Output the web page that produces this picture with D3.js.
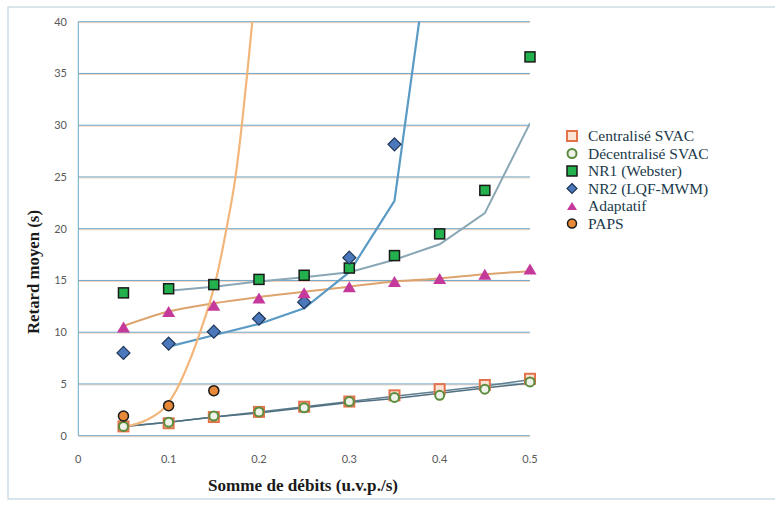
<!DOCTYPE html>
<html>
<head>
<meta charset="utf-8" />
<title>retard moyen</title>
<script src="https://cdn.jsdelivr.net/npm/d3@7/dist/d3.min.js"></script>
<style>
  body { margin: 0; background: #fff; }
</style>
</head>
<body>
<svg width="775" height="506"></svg>
<script>
// donnees
var xVals = [0.05, 0.1, 0.15, 0.2, 0.25, 0.3, 0.35, 0.4, 0.45, 0.5]
var centraliseVals = [0.9, 1.2, 1.8, 2.3, 2.8, 3.3, 3.9, 4.5, 4.9, 5.5]
var decentraliseVals = [0.9, 1.3, 1.9, 2.3, 2.7, 3.3, 3.7, 3.9, 4.5, 5.2]
var nr1Vals = [13.8, 14.2, 14.6, 15.1, 15.5, 16.2, 17.4, 19.5, 23.7, 36.6]
var nr2Vals = [8.0, 8.9, 10.05, 11.3, 12.9, 17.2, 28.15]
var adaptatifVals = [10.5, 12.0, 12.6, 13.3, 13.8, 14.4, 14.9, 15.2, 15.6, 16.1]
var papsVals = [1.9, 2.9, 4.35]

// courbes (modeles)
var papsCurveX = [0.05, 0.075, 0.0974, 0.1085, 0.123, 0.134, 0.146, 0.153, 0.164, 0.174, 0.181, 0.187, 0.1926]
var papsCurveY = [0.85, 1.5, 2.9, 4.4, 7.2, 9.8, 13.0, 15.3, 20, 25, 30, 35, 40]
var nr1CurveX = [0.1, 0.15, 0.2, 0.25, 0.3, 0.35, 0.4, 0.45, 0.5]
var nr1CurveY = [14.0, 14.4, 14.9, 15.3, 15.8, 17.0, 18.5, 21.5, 30.2]
var nr2CurveX = [0.1, 0.15, 0.2, 0.25, 0.3, 0.35, 0.3773]
var nr2CurveY = [8.6, 9.7, 10.8, 12.3, 15.8, 22.7, 40]
var adaptCurveY = [10.6, 12.0, 12.8, 13.4, 13.9, 14.4, 14.9, 15.2, 15.6, 15.9]
var svacCurve1Y = [0.9, 1.3, 1.8, 2.3, 2.8, 3.3, 3.8, 4.3, 4.8, 5.4]
var svacCurve2Y = [0.9, 1.3, 1.8, 2.2, 2.7, 3.2, 3.6, 4.1, 4.6, 5.1]

var yTicks = [0, 5, 10, 15, 20, 25, 30, 35, 40]
var xTicks = [0, 0.1, 0.2, 0.3, 0.4, 0.5]
var xTickLabels = ['0', '0.1', '0.2', '0.3', '0.4', '0.5']
var legendNames = ['Centralisé SVAC', 'Décentralisé SVAC', 'NR1 (Webster)', 'NR2 (LQF-MWM)', 'Adaptatif', 'PAPS']

var svg = d3.select('svg')
var plot = {left: 78.3, right: 530, top: 21.7, bottom: 435.7}

var xScale = d3.scaleLinear().domain([0, 0.5]).range([plot.left, plot.right])
var yScale = d3.scaleLinear().domain([0, 40]).range([plot.bottom, plot.top])

// cadre exterieur
svg.append('rect')
  .attr('x', 8).attr('y', 7).attr('width', 790).attr('height', 492)
  .attr('fill', 'none').attr('stroke', '#b3cbd8').attr('stroke-width', 1)

svg.append('clipPath').attr('id', 'clip')
  .append('rect')
  .attr('x', plot.left).attr('y', plot.top - 1)
  .attr('width', plot.right - plot.left).attr('height', plot.bottom - plot.top + 2)

// grille horizontale
var grid = svg.append('g')
grid.selectAll('.gs').data(yTicks).enter().append('line')
  .attr('x1', plot.left).attr('x2', plot.right)
  .attr('y1', d => yScale(d) + 1).attr('y2', d => yScale(d) + 1)
  .attr('stroke', '#f4d2bf').attr('stroke-width', 1)
grid.selectAll('.gl').data(yTicks).enter().append('line')
  .attr('x1', plot.left).attr('x2', plot.right)
  .attr('y1', d => yScale(d)).attr('y2', d => yScale(d))
  .attr('stroke', '#6ea7c6').attr('stroke-width', 1)
// axe vertical
svg.append('line')
  .attr('x1', plot.left).attr('x2', plot.left)
  .attr('y1', plot.top).attr('y2', plot.bottom)
  .attr('stroke', '#6ea7c6').attr('stroke-width', 1)

// etiquettes des axes
svg.append('g').selectAll('text').data(yTicks).enter().append('text')
  .attr('x', 67).attr('y', d => yScale(d))
  .attr('dy', '0.35em')
  .attr('text-anchor', 'end')
  .style('font-family', 'Lato, sans-serif').style('font-size', '11px')
  .attr('fill', '#595959')
  .text(d => d)

svg.append('g').selectAll('text').data(xTicks).enter().append('text')
  .attr('x', d => xScale(d)).attr('y', 463)
  .attr('text-anchor', 'middle')
  .style('font-family', 'Lato, sans-serif').style('font-size', '11px')
  .attr('fill', '#595959')
  .text((d, i) => xTickLabels[i])

svg.append('text')
  .attr('x', 303).attr('y', 491)
  .attr('text-anchor', 'middle')
  .attr('textLength', 190).attr('lengthAdjust', 'spacingAndGlyphs')
  .style('font-family', '"Liberation Serif", serif').style('font-size', '16px').style('font-weight', 'bold')
  .attr('fill', '#1a1a1a')
  .text('Somme de débits (u.v.p./s)')

svg.append('text')
  .attr('transform', 'translate(38.5,272) rotate(-90)')
  .attr('text-anchor', 'middle')
  .attr('textLength', 124).attr('lengthAdjust', 'spacingAndGlyphs')
  .style('font-family', '"Liberation Serif", serif').style('font-size', '16px').style('font-weight', 'bold')
  .attr('fill', '#1a1a1a')
  .text('Retard moyen (s)')

// courbes
var line = d3.line().x(d => xScale(d[0])).y(d => yScale(d[1]))
var smooth = d3.line().x(d => xScale(d[0])).y(d => yScale(d[1])).curve(d3.curveMonotoneX)
var curves = svg.append('g').attr('clip-path', 'url(#clip)')

function pairs(xs, ys) { return xs.map((x, i) => [x, ys[i]]) }

curves.append('path').datum(pairs(xVals, svacCurve1Y))
  .attr('d', line).attr('fill', 'none').attr('stroke', '#5f7f8f').attr('stroke-width', 1.5)
curves.append('path').datum(pairs(xVals, svacCurve2Y))
  .attr('d', line).attr('fill', 'none').attr('stroke', '#4f6f80').attr('stroke-width', 1.5)
curves.append('path').datum(pairs(xVals, adaptCurveY))
  .attr('d', smooth).attr('fill', 'none').attr('stroke', '#dea46e').attr('stroke-width', 2)
curves.append('path').datum(pairs(nr1CurveX, nr1CurveY))
  .attr('d', line).attr('fill', 'none').attr('stroke', '#8aa7b6').attr('stroke-width', 2)
curves.append('path').datum(pairs(nr2CurveX, nr2CurveY))
  .attr('d', line).attr('fill', 'none').attr('stroke', '#5a9ac4').attr('stroke-width', 2.2)
curves.append('path').datum(pairs(papsCurveX, papsCurveY))
  .attr('d', smooth).attr('fill', 'none').attr('stroke', '#f2b57a').attr('stroke-width', 2.2)

// marqueurs
var markerStyles = [
  {shape: 'square', size: 10, fill: '#fbe3d6', stroke: '#e2724a', sw: 2},
  {shape: 'circle', size: 10, fill: '#eef2e8', stroke: '#5b8b3c', sw: 2},
  {shape: 'square', size: 10, fill: '#22b14c', stroke: '#1a1a1a', sw: 1.5},
  {shape: 'diamond', size: 13, fill: '#4a78ba', stroke: '#1f3557', sw: 1.2},
  {shape: 'triangle', size: 13, fill: '#c4399a', stroke: 'none', sw: 0},
  {shape: 'circle', size: 11, fill: '#e8893a', stroke: '#1a1a1a', sw: 1.5}
]

function drawMarker(g, st, cx, cy) {
  var h = st.size / 2
  var el
  if (st.shape == 'square') {
    el = g.append('rect').attr('x', cx - h).attr('y', cy - h).attr('width', st.size).attr('height', st.size)
  } else if (st.shape == 'circle') {
    el = g.append('circle').attr('cx', cx).attr('cy', cy).attr('r', h - 0.5)
  } else if (st.shape == 'diamond') {
    el = g.append('path').attr('d', `M${cx},${cy - h}L${cx + h},${cy}L${cx},${cy + h}L${cx - h},${cy}Z`)
  } else {
    el = g.append('path').attr('d', `M${cx},${cy - h + 1}L${cx + h},${cy + h - 1}L${cx - h},${cy + h - 1}Z`)
  }
  el.attr('fill', st.fill).attr('stroke', st.stroke).attr('stroke-width', st.sw)
}

var seriesVals = [centraliseVals, decentraliseVals, nr1Vals, nr2Vals, adaptatifVals, papsVals]
var marks = svg.append('g')
seriesVals.forEach(function(vals, s) {
  vals.forEach(function(v, i) {
    drawMarker(marks, markerStyles[s], xScale(xVals[i]), yScale(v))
  })
})

// legende
var legend = svg.append('g')
legendNames.forEach(function(name, i) {
  var y = 136 + i * 17.5
  var st = Object.assign({}, markerStyles[i], {size: Math.min(markerStyles[i].size, 10)})
  drawMarker(legend, st, 572, y)
  legend.append('text')
    .attr('x', 588).attr('y', y).attr('dy', '0.35em')
    .style('font-family', '"Liberation Serif", serif').style('font-size', '15.5px')
    .attr('fill', '#20394a')
    .text(name)
})
</script>
</body>
</html>
